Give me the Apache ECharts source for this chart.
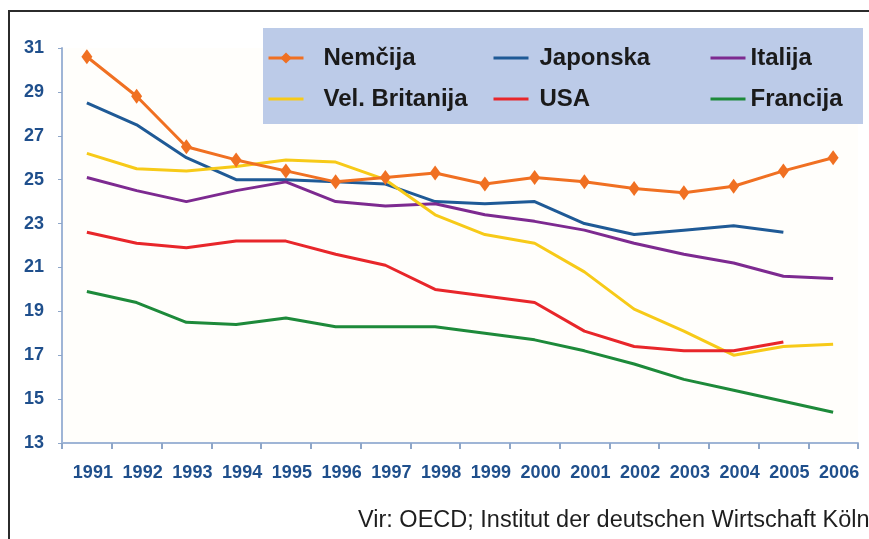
<!DOCTYPE html>
<html>
<head>
<meta charset="utf-8">
<script src="https://cdn.jsdelivr.net/npm/echarts@6/dist/echarts.min.js"></script>
<style>
html,body{margin:0;padding:0;background:#fff;}
#c{width:869px;height:539px;}
</style>
</head>
<body>
<div id="c"></div>
<script>
var years = ['1991','1992','1993','1994','1995','1996','1997','1998','1999','2000','2001','2002','2003','2004','2005','2006'];
var yTicks = [13, 31, 2];
var nemcija   = [30.6, 28.8, 26.5, 25.9, 25.4, 24.9, 25.1, 25.3, 24.8, 25.1, 24.9, 24.6, 24.4, 24.7, 25.4, 26.0];
var japonska  = [28.5, 27.5, 26.0, 25.0, 25.0, 24.9, 24.8, 24.0, 23.9, 24.0, 23.0, 22.5, 22.7, 22.9, 22.6, null];
var italija   = [25.1, 24.5, 24.0, 24.5, 24.9, 24.0, 23.8, 23.9, 23.4, 23.1, 22.7, 22.1, 21.6, 21.2, 20.6, 20.5];
var britanija = [26.2, 25.5, 25.4, 25.6, 25.9, 25.8, 25.0, 23.4, 22.5, 22.1, 20.8, 19.1, 18.1, 17.0, 17.4, 17.5];
var usa       = [22.6, 22.1, 21.9, 22.2, 22.2, 21.6, 21.1, 20.0, 19.7, 19.4, 18.1, 17.4, 17.2, 17.2, 17.6, null];
var francija  = [19.9, 19.4, 18.5, 18.4, 18.7, 18.3, 18.3, 18.3, 18.0, 17.7, 17.2, 16.6, 15.9, 15.4, 14.9, 14.4];
var source = 'Vir: OECD; Institut der deutschen Wirtschaft Köln';

var FONT = '"Liberation Sans", Arial, sans-serif';
var axisColor = '#9fb5d6';
var labelColor = '#1f4f8c';

function lineSeries(name, data, color, extra) {
  var s = {
    name: name, type: 'line', data: data,
    symbol: 'none', smooth: false, connectNulls: false,
    lineStyle: { color: color, width: 3 },
    itemStyle: { color: color },
    z: 3
  };
  if (extra) for (var k in extra) s[k] = extra[k];
  return s;
}

var legendText = function(padLeft){
  return { fontFamily: FONT, fontSize: 24, fontWeight: 'bold', color: '#1a1a1a', lineHeight: 24, padding: [0,0,0,padLeft] };
};
var plainItem = function(name){ return { name: name, itemStyle: { opacity: 0 } }; };
var legendBase = function(data, left, pad){
  return { data: data, orient: 'vertical', left: left, top: 41, itemWidth: 35, itemHeight: 14, itemGap: 17,
    lineStyle: { width: 3 }, textStyle: legendText(pad), z: 10 };
};

var chart = echarts.init(document.getElementById('c'), null, { renderer: 'canvas' });
chart.setOption({
  backgroundColor: '#ffffff',
  animation: false,
  textStyle: { fontFamily: FONT },
  graphic: [
    { type: 'rect', z: -10, shape: { x: 9, y: 11, width: 900, height: 600 },
      style: { fill: '#ffffff', stroke: '#2b2b2b', lineWidth: 2 } },
    { type: 'rect', z: 0, shape: { x: 263, y: 28, width: 600, height: 96 },
      style: { fill: '#bccbe8' } },
    { type: 'text', z: 5, left: 358, top: 509,
      style: { text: source, font: '23.5px "Liberation Sans", Arial, sans-serif', fill: '#1e1e1e' } }
  ],
  grid: { left: 62, right: 11, top: 48, bottom: 96, show: true, backgroundColor: '#fffefb', borderWidth: 0 },
  legend: [
    legendBase(['Nemčija', plainItem('Vel. Britanija')], 262, 15),
    legendBase([plainItem('Japonska'), plainItem('USA')], 487, 6),
    legendBase([plainItem('Italija'), plainItem('Francija')], 704, 0)
  ],
  xAxis: {
    type: 'category', data: years, boundaryGap: true,
    axisLine: { show: true, lineStyle: { color: axisColor, width: 2 } },
    axisTick: { show: true, interval: 0, length: 6, inside: false, lineStyle: { color: '#8ea6c8', width: 2 } },
    axisLabel: { interval: 0, margin: 21, color: labelColor, fontSize: 18, fontWeight: 'bold', fontFamily: FONT, padding: [0,0,0,12] },
    splitLine: { show: false }
  },
  yAxis: {
    type: 'value', min: yTicks[0], max: yTicks[1], interval: yTicks[2],
    axisLine: { show: true, lineStyle: { color: axisColor, width: 2 } },
    axisTick: { show: true, length: 4, inside: false, lineStyle: { color: '#8ea6c8', width: 1 } },
    axisLabel: { margin: 18, color: labelColor, fontSize: 18, fontWeight: 'bold', fontFamily: FONT },
    splitLine: { show: false }
  },
  series: [
    lineSeries('Nemčija', nemcija, '#f07022', { symbol: 'diamond', symbolSize: [11, 15], showSymbol: true, z: 5 }),
    lineSeries('Japonska', japonska, '#1f5a96'),
    lineSeries('Italija', italija, '#7d2a90'),
    lineSeries('Vel. Britanija', britanija, '#f7ca18'),
    lineSeries('USA', usa, '#e8262a'),
    lineSeries('Francija', francija, '#1d8a3a')
  ]
});
</script>
</body>
</html>
